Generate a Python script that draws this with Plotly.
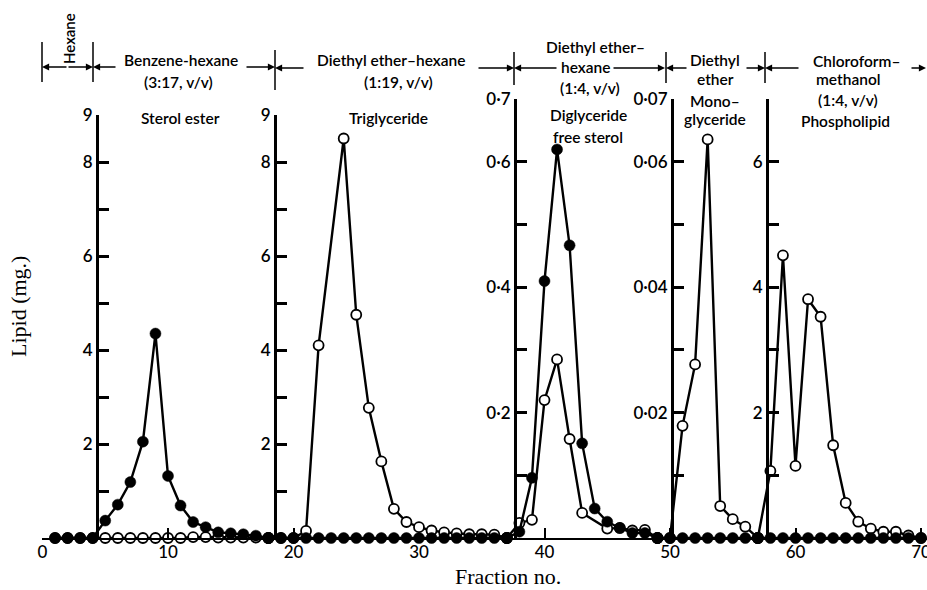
import plotly.graph_objects as go

# ---------------- data ----------------
# Panel 1: sterol ester (mg, 0-9 scale)
p1_fractions = [1, 2, 3, 4, 5, 6, 7, 8, 9, 10, 11, 12, 13, 14, 15, 16, 17, 18]
p1_filled = [0, 0, 0, 0, 0.37, 0.71, 1.19, 2.05, 4.35, 1.32, 0.69, 0.34, 0.23, 0.12, 0.10, 0.08, 0.05, 0]
p1_open = [0, 0, 0, 0, 0, 0, 0, 0, 0, 0, 0, 0.02, 0.02, 0.01, 0.01, 0.01, 0.01, 0]

# Panel 2: triglyceride (mg, 0-9 scale)
p2_filled_fr = [18, 19, 20, 21, 22, 23, 24, 25, 26, 27, 28, 29, 30, 31, 32, 33, 34, 35, 36, 37]
p2_filled = [0] * 20
p2_open_fr = [18, 19, 20, 21, 22, 24, 25, 26, 27, 28, 29, 30, 31, 32, 33, 34, 35, 36, 37]
p2_open = [0, 0, 0, 0.15, 4.1, 8.5, 4.75, 2.77, 1.63, 0.62, 0.34, 0.23, 0.16, 0.12, 0.10, 0.08, 0.08, 0.07, 0]

# Panel 3: diglyceride / free sterol (mg, 0-0.7 scale)
p3_filled_fr = [37, 38, 39, 40, 41, 42, 43, 44, 45, 46, 47, 48, 49]
p3_filled = [0, 0.01, 0.096, 0.41, 0.62, 0.467, 0.151, 0.047, 0.026, 0.016, 0.008, 0.008, 0]
p3_open_fr = [37, 38, 39, 40, 41, 42, 43, 45, 46, 47, 48, 49]
p3_open = [0, 0.024, 0.029, 0.22, 0.285, 0.158, 0.04, 0.015, 0.016, 0.012, 0.013, 0]

# Panel 4: monoglyceride (mg, 0-0.07 scale)
p4_filled_fr = [49, 50, 51, 52, 53, 54, 55, 56, 57]
p4_filled = [0] * 9
p4_open_fr = [49, 50, 51, 52, 53, 54, 55, 56, 57]
p4_open = [0, 0, 0.0179, 0.0277, 0.0636, 0.0051, 0.003, 0.0018, 0]

# Panel 5: phospholipid (mg, 0-7 scale)
p5_filled_fr = [57, 58, 59, 60, 61, 62, 63, 64, 65, 66, 67, 68, 69, 70]
p5_filled = [0] * 14
p5_open_fr = [57, 58, 59, 60, 61, 62, 63, 64, 65, 66, 67, 68, 69, 70]
p5_open = [0, 1.07, 4.51, 1.15, 3.81, 3.53, 1.48, 0.56, 0.26, 0.15, 0.10, 0.10, 0.04, 0]

# tick labels
ticks_9 = [1, 2, 3, 4, 5, 6, 7, 8, 9]
ticks_9_text = ["", "2", "", "4", "", "6", "", "8", "9"]
ticks_07 = [0.1, 0.2, 0.3, 0.4, 0.5, 0.6, 0.7]
ticks_07_text = ["", "0·2", "", "0·4", "", "0·6", "0·7"]
ticks_007 = [0.01, 0.02, 0.03, 0.04, 0.05, 0.06, 0.07]
ticks_007_text = ["", "0·02", "", "0·04", "", "0·06", "0·07"]
ticks_7 = [1, 2, 3, 4, 5, 6, 7]
ticks_7_text = ["", "2", "", "4", "", "6", ""]
x_ticks = [0, 10, 20, 30, 40, 50, 60, 70]

# ---------------- layout geometry ----------------
W, H = 927, 590
BASE = 538          # pixel row of zero
PX0 = 42.5          # pixel column of fraction 0
PXU = 12.55         # pixels per fraction
SANS = "Lato"
SERIF = "Liberation Serif"


def px(xp):
    return xp / W


def py(yp):
    return 1 - yp / H


panels = [
    # axis id, pixel x of axis, top value, top pixel, tickvals, ticktext
    ("y2", 97, 9, 115, ticks_9, ticks_9_text),
    ("y3", 275, 9, 115, ticks_9, ticks_9_text),
    ("y4", 515, 0.7, 99.3, ticks_07, ticks_07_text),
    ("y5", 672, 0.07, 99.3, ticks_007, ticks_007_text),
    ("y6", 767, 7, 99.3, ticks_7, ticks_7_text),
]
series = [
    (p1_fractions, p1_filled, p1_fractions, p1_open),
    (p2_filled_fr, p2_filled, p2_open_fr, p2_open),
    (p3_filled_fr, p3_filled, p3_open_fr, p3_open),
    (p4_filled_fr, p4_filled, p4_open_fr, p4_open),
    (p5_filled_fr, p5_filled, p5_open_fr, p5_open),
]

fig = go.Figure()

line_style = dict(color="black", width=2.4)
for (axid, _, _, _, _, _), (ffr, fv, ofr, ov) in zip(panels, series):
    fig.add_trace(go.Scatter(
        x=ofr, y=ov, yaxis=axid, mode="lines+markers", cliponaxis=False,
        line=line_style,
        marker=dict(symbol="circle", size=10, color="white",
                    line=dict(color="black", width=1.8)),
        hoverinfo="skip"))
    fig.add_trace(go.Scatter(
        x=ffr, y=fv, yaxis=axid, mode="lines+markers", cliponaxis=False,
        line=line_style,
        marker=dict(symbol="circle", size=11, color="black",
                    line=dict(color="black", width=0.5)),
        hoverinfo="skip"))

layout_axes = {}
tickfont = dict(family=SANS, size=17, color="black", weight=600)
for axid, xpix, top, toppix, tv, tt in panels:
    key = "yaxis" + axid[1:]
    layout_axes[key] = dict(
        anchor="free", position=px(xpix), domain=[py(BASE), py(toppix)],
        range=[0, top], showgrid=False, zeroline=False, automargin=False,
        showline=True, linecolor="black", linewidth=3,
        ticks="inside", ticklen=10, tickwidth=3, tickcolor="black",
        tickvals=tv, ticktext=tt, tickfont=tickfont,
    )

fig.update_layout(
    width=W, height=H,
    margin=dict(l=0, r=0, t=0, b=0, autoexpand=False),
    paper_bgcolor="white", plot_bgcolor="rgba(0,0,0,0)",
    showlegend=False,
    xaxis=dict(
        domain=[px(42), 1], range=[(42 - PX0) / PXU, (W - PX0) / PXU],
        anchor="y", showgrid=False, zeroline=False, automargin=False,
        showline=True, linecolor="black", linewidth=2,
        ticks="inside", ticklen=10, tickwidth=2, tickcolor="black",
        tickvals=x_ticks, ticklabelstandoff=-2, ticklabeloverflow="allow",
        tickfont=dict(family=SANS, size=17, color="black", weight=500),
    ),
    yaxis=dict(
        anchor="free", position=px(46), domain=[py(BASE), py(115)],
        range=[0, 9], showgrid=False, zeroline=False, automargin=False,
        showline=True, linecolor="black", linewidth=2,
        ticks="", showticklabels=False,
    ),
    **layout_axes,
)

# ---------------- header: solvent brackets ----------------
for xs, y0, y1 in [(42, 42, 82), (93, 42, 82), (275, 50, 90),
                   (514, 52, 85), (666, 52, 83), (765, 52, 83)]:
    fig.add_shape(type="line", xref="paper", yref="paper",
                  x0=px(xs), x1=px(xs), y0=py(y0), y1=py(y1),
                  line=dict(color="black", width=1.5))

arrows = [  # tip pixel, tail pixel, row
    (42, 68, 67), (93, 67, 67),
    (93, 117, 67), (275, 245, 67),
    (275, 305, 68), (514, 477, 68),
    (514, 558, 68), (665, 612, 68),
    (666, 688, 68), (765, 745, 68),
    (765, 800, 68), (926, 910, 68),
]
for tip, tail, row in arrows:
    fig.add_annotation(x=px(tip), y=py(row), xref="paper", yref="paper",
                       ax=tail - tip, ay=0, text="", showarrow=True,
                       arrowhead=2, arrowsize=1.1, arrowwidth=1.3,
                       arrowcolor="black", standoff=0)

hfont = dict(family=SANS, size=15.5, color="black", weight=600)
texts = [
    ("Benzene-hexane", 181, 60), ("(3:17, v/v)", 178, 82),
    ("Diethyl ether–hexane", 391, 60), ("(1:19, v/v)", 398, 82),
    ("Diethyl ether–", 595, 47), ("hexane", 585, 67), ("(1:4, v/v)", 590, 88),
    ("Diethyl", 715, 60), ("ether", 715, 79),
    ("Chloroform–", 856, 61), ("methanol", 848, 79), ("(1:4, v/v)", 848, 100),
    ("Sterol ester", 180, 118), ("Triglyceride", 388, 118),
    ("Diglyceride", 588, 115), ("free sterol", 588, 137),
    ("Mono–", 715, 101), ("glyceride", 715, 119),
    ("Phospholipid", 845, 121),
]
for t, xp, yp in texts:
    fig.add_annotation(x=px(xp), y=py(yp), xref="paper", yref="paper",
                       text=t, showarrow=False, font=hfont,
                       xanchor="center", yanchor="middle")

fig.add_annotation(x=px(69), y=py(39), xref="paper", yref="paper",
                   text="Hexane", showarrow=False, textangle=-90,
                   xanchor="center", yanchor="middle",
                   font=dict(family=SANS, size=15, color="black", weight=600))

# axis titles
fig.add_annotation(x=px(18), y=py(307), xref="paper", yref="paper",
                   text="Lipid (mg.)", showarrow=False, textangle=-90,
                   xanchor="center", yanchor="middle",
                   font=dict(family=SERIF, size=22, color="black"))
fig.add_annotation(x=px(508), y=py(576), xref="paper", yref="paper",
                   text="Fraction no.", showarrow=False,
                   xanchor="center", yanchor="middle",
                   font=dict(family=SERIF, size=22, color="black"))

fig.write_html("out.html", config={"displayModeBar": False},
               post_script="document.body.style.margin='0px';")
